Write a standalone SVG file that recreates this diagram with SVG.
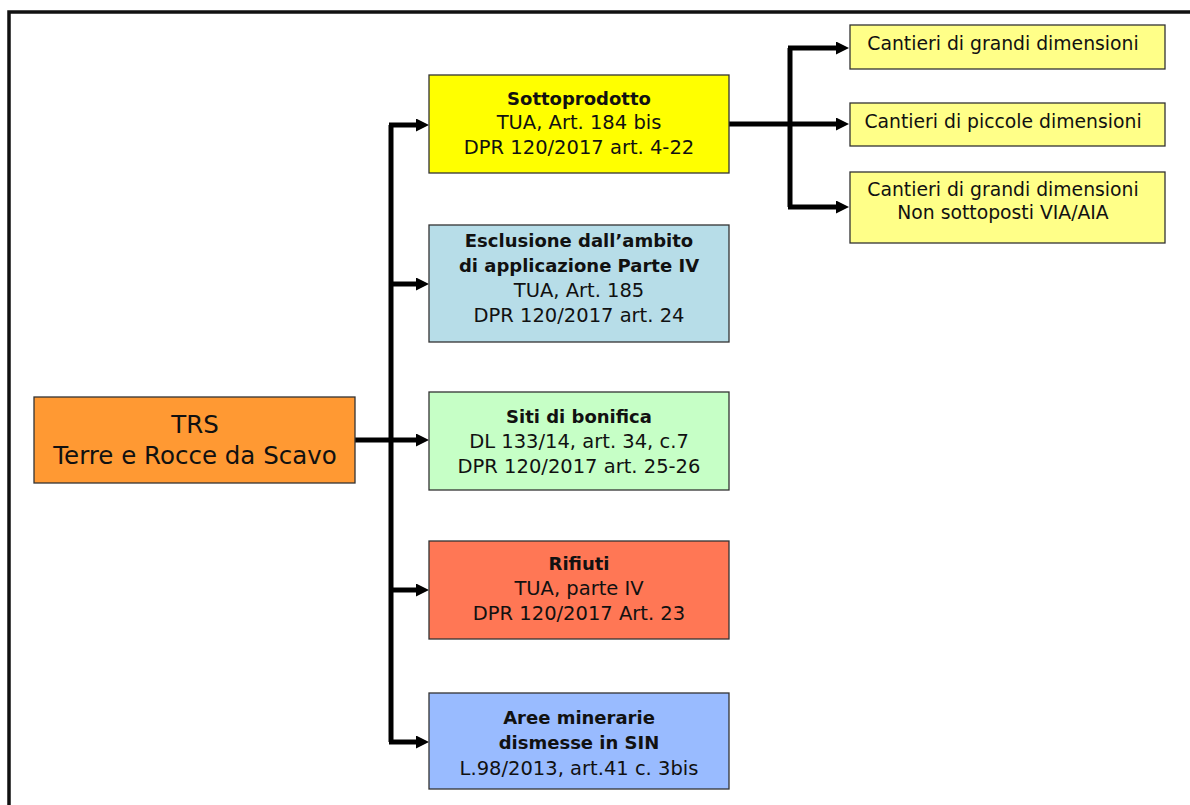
<svg xmlns="http://www.w3.org/2000/svg" width="1190" height="805" viewBox="0 0 1190 805">
<style>
  .box { stroke: #333; stroke-width: 1.3; }
  .t { font-family: "DejaVu Sans", "Liberation Sans", sans-serif; fill: #111; text-anchor: middle; }
  .r { font-size: 19.5px; }
  .b { font-size: 18px; font-weight: bold; }
  .s { font-size: 18.8px; }
  .big { font-size: 24.5px; }
  .conn { fill: none; stroke: #000; stroke-width: 5; stroke-linejoin: miter; }
  .arr { fill: none; stroke: #000; stroke-width: 5; marker-end: url(#ah); }
</style>
<defs>
  <marker id="ah" markerUnits="userSpaceOnUse" markerWidth="14" markerHeight="14" refX="4" refY="6.5" orient="auto">
    <path d="M0,0 L13,6.5 L0,13 z" fill="#000"/>
  </marker>
</defs>
<rect width="1190" height="805" fill="#fff"/>
<path d="M9,805 L9,12 L1190,12" fill="none" stroke="#111" stroke-width="3.5"/>

<g id="connectors">
  <path class="conn" d="M391,742 L391,125"/>
  <path class="arr" d="M355,440 L420,440"/>
  <path class="arr" d="M389,125 L420,125"/>
  <path class="arr" d="M391,284 L420,284"/>
  <path class="arr" d="M391,590 L420,590"/>
  <path class="arr" d="M389,742 L420,742"/>
  <path class="conn" d="M790,48 L790,207"/>
  <path class="arr" d="M729,124 L840,124"/>
  <path class="arr" d="M788,48 L840,48"/>
  <path class="arr" d="M788,207 L840,207"/>
</g>

<g id="trs">
  <rect class="box" x="34" y="397" width="321" height="86" fill="#FF9933"/>
  <text class="t big" x="195" y="433">TRS</text>
  <text class="t big" x="195" y="464">Terre e Rocce da Scavo</text>
</g>

<g id="sottoprodotto">
  <rect class="box" x="429" y="75" width="300" height="98" fill="#FFFF00"/>
  <text class="t b" x="579" y="105">Sottoprodotto</text>
  <text class="t r" x="579" y="129">TUA, Art. 184 bis</text>
  <text class="t r" x="579" y="154">DPR 120/2017 art. 4-22</text>
</g>

<g id="esclusione">
  <rect class="box" x="429" y="225" width="300" height="117" fill="#B7DDE8"/>
  <text class="t b" x="579" y="247">Esclusione dall’ambito</text>
  <text class="t b" x="579" y="272">di applicazione Parte IV</text>
  <text class="t r" x="579" y="297">TUA, Art. 185</text>
  <text class="t r" x="579" y="322">DPR 120/2017 art. 24</text>
</g>

<g id="siti">
  <rect class="box" x="429" y="392" width="300" height="98" fill="#C6FFC6"/>
  <text class="t b" x="579" y="423">Siti di bonifica</text>
  <text class="t r" x="579" y="448">DL 133/14, art. 34, c.7</text>
  <text class="t r" x="579" y="473">DPR 120/2017 art. 25-26</text>
</g>

<g id="rifiuti">
  <rect class="box" x="429" y="541" width="300" height="98" fill="#FF7755"/>
  <text class="t b" x="579" y="570">Rifiuti</text>
  <text class="t r" x="579" y="595">TUA, parte IV</text>
  <text class="t r" x="579" y="620">DPR 120/2017 Art. 23</text>
</g>

<g id="aree">
  <rect class="box" x="429" y="693" width="300" height="96" fill="#99BBFF"/>
  <text class="t b" x="579" y="724">Aree minerarie</text>
  <text class="t b" x="579" y="749">dismesse in SIN</text>
  <text class="t r" x="579" y="775">L.98/2013, art.41 c. 3bis</text>
</g>

<g id="cantieri-grandi">
  <rect class="box" x="850" y="25" width="315" height="44" fill="#FFFF88"/>
  <text class="t s" x="1003" y="50">Cantieri di grandi dimensioni</text>
</g>

<g id="cantieri-piccole">
  <rect class="box" x="850" y="103" width="315" height="43" fill="#FFFF88"/>
  <text class="t s" x="1003" y="128">Cantieri di piccole dimensioni</text>
</g>

<g id="cantieri-grandi-non-via">
  <rect class="box" x="850" y="172" width="315" height="71" fill="#FFFF88"/>
  <text class="t s" x="1003" y="196">Cantieri di grandi dimensioni</text>
  <text class="t s" x="1003" y="219">Non sottoposti VIA/AIA</text>
</g>
</svg>
